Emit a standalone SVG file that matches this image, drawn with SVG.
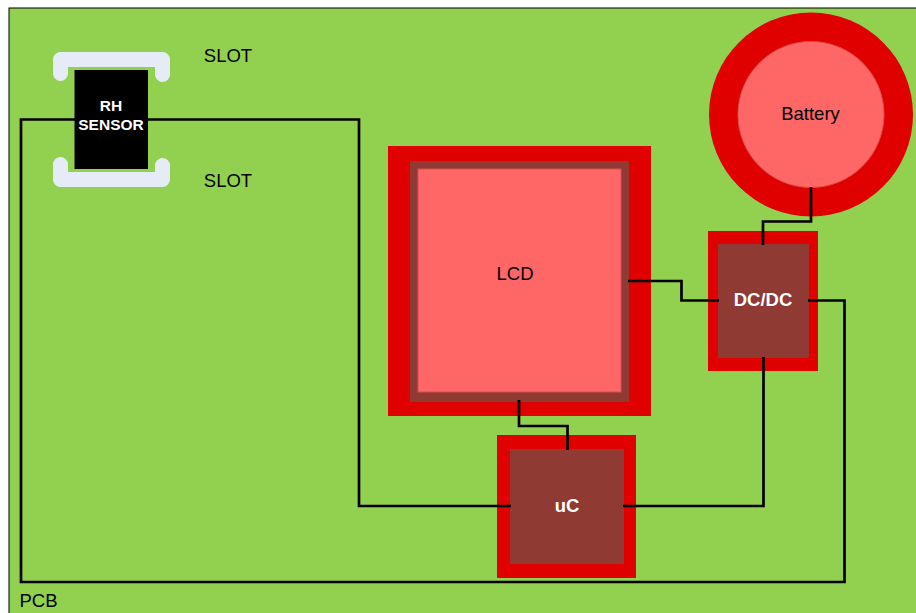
<svg xmlns="http://www.w3.org/2000/svg" width="916" height="613" viewBox="0 0 916 613">
<style>
text{font-family:"Liberation Sans",Arial,sans-serif;font-size:18.500px;fill:#000;text-anchor:middle}
.w{fill:#fff;font-weight:bold;font-size:18.500px}
.s{font-size:15.500px}
.red{fill:#e00000}
.brown{fill:#8f3a33}
.pink{fill:#ff6666;stroke:#d85050;stroke-width:1}
.slot{fill:none;stroke:#e6ecf7;stroke-width:15;stroke-linecap:round;stroke-linejoin:round}
.wire{fill:none;stroke:#000;stroke-width:2.700}
</style>
<rect width="916" height="613" fill="#fff"/>
<g id="pcb">
<rect x="9" y="8" width="920" height="620" fill="#92d050" stroke="#000" stroke-width="1"/>
<text x="38.500" y="606.500">PCB</text>
</g>
<g id="slot-top">
<path class="slot" d="M60.500 73.500V59.500H162.500V74.500"/>
<text x="228" y="62">SLOT</text>
</g>
<g id="slot-bottom">
<path class="slot" d="M60.500 164.500V179.500H162.500V165.500"/>
<text x="228" y="187">SLOT</text>
</g>
<g id="lcd">
<rect class="red" x="388" y="146" width="263" height="270"/>
<rect class="brown" x="410" y="161" width="219" height="241"/>
<rect class="pink" x="418" y="169" width="203" height="223"/>
<text x="515" y="280">LCD</text>
</g>
<g id="battery">
<circle class="red" cx="811" cy="114.500" r="102"/>
<circle class="pink" cx="811" cy="114.500" r="73"/>
<text x="810.500" y="120">Battery</text>
</g>
<g id="dcdc">
<rect class="red" x="708" y="231" width="110" height="140"/>
<rect class="brown" x="718" y="244" width="91" height="114"/>
</g>
<g id="uc">
<rect class="red" x="497" y="435" width="139" height="143"/>
<rect class="brown" x="510" y="449" width="114" height="115"/>
</g>
<g id="connectors">
<path class="wire" d="M811 187V221.500H763V245"/>
<path class="wire" d="M628 281H681.500V300.500H719"/>
<path class="wire" d="M808 300.500H844.500V582H21V119.500H75"/>
<path class="wire" d="M148 119.500H359V506H511"/>
<path class="wire" d="M623 506H763.500V357"/>
<path class="wire" d="M519 400V426H567.500V450"/>
</g>
<g id="rh-sensor">
<rect x="74.500" y="70" width="73.500" height="99" fill="#000"/>
<text class="w s" x="111" y="111">RH</text>
<text class="w s" x="111" y="130">SENSOR</text>
</g>
<g id="dcdc-label"><text class="w" x="763" y="306">DC/DC</text></g>
<g id="uc-label"><text class="w" x="567" y="512">uC</text></g>
</svg>
